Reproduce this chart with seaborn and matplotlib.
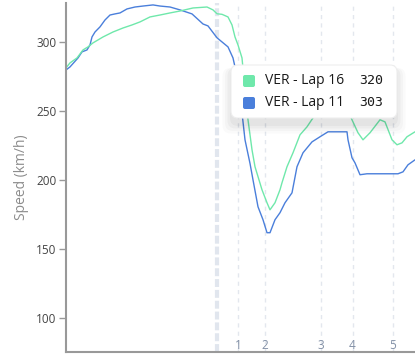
import numpy as np
import matplotlib
matplotlib.use("Agg")
import matplotlib.pyplot as plt
import seaborn as sns
import pandas as pd
from matplotlib.patches import FancyBboxPatch

# distance along the lap (m) and speed (km/h)
lap11_dist = [0, 40, 120, 160, 210, 240, 260, 290, 340, 390, 440, 490, 540, 610, 690,
              770, 870, 940, 1040, 1140, 1260, 1370, 1420, 1510, 1560, 1620, 1670, 1690,
              1720, 1760, 1790, 1840, 1870, 1920, 1970, 2010, 2040, 2090, 2140, 2190,
              2260, 2310, 2370, 2460, 2540, 2620, 2710, 2810, 2820, 2860, 2890, 2940,
              3010, 3210, 3320, 3370, 3420, 3490]
lap11_speed = [279.7, 281.9, 288.4, 292.8, 294.2, 297.8, 303.6, 307.2, 310.9, 315.9,
               319.5, 320.3, 321.0, 323.9, 325.3, 326.0, 326.8, 326.0, 325.3, 323.2,
               320.3, 313.0, 311.6, 303.0, 300.0, 296.4, 288.4, 281.9, 268.9, 248.6,
               229.1, 212.0, 200.1, 180.6, 171.2, 161.8, 161.8, 171.2, 176.3, 183.5,
               190.7, 209.6, 219.7, 227.6, 231.3, 234.9, 234.9, 234.9, 229.1, 216.1,
               212.4, 203.8, 204.5, 204.5, 204.5, 205.9, 211.0, 214.6]

lap16_dist = [0, 40, 110, 170, 220, 270, 370, 470, 570, 660, 740, 840, 940, 1040, 1140,
              1270, 1410, 1470, 1510, 1560, 1620, 1660, 1690, 1720, 1760, 1790, 1820,
              1860, 1890, 1960, 2010, 2040, 2090, 2140, 2160, 2210, 2270, 2340, 2410,
              2470, 2540, 2640, 2740, 2810, 2860, 2920, 2970, 3040, 3140, 3190, 3260,
              3310, 3360, 3410, 3490]
lap16_speed = [281.2, 284.8, 288.4, 294.2, 296.4, 299.3, 303.6, 307.2, 310.1, 312.3,
               314.5, 318.1, 319.5, 321.0, 322.4, 324.6, 325.3, 323.2, 320.4, 320.0,
               318.1, 312.3, 303.6, 297.8, 288.4, 265.3, 243.6, 221.9, 209.6, 192.9,
               183.5, 178.4, 183.5, 192.9, 198.0, 209.6, 219.7, 232.7, 238.5, 245.0,
               252.2, 258.0, 258.0, 252.2, 243.6, 234.2, 229.1, 234.2, 243.6, 242.1,
               229.1, 225.5, 226.9, 231.3, 234.9]

corners = ["1", "2", "3", "4", "5"]
corner_dist = [1720, 1990, 2550, 2865, 3270]
cursor_dist = 1510

series = ["VER - Lap 16", "VER - Lap 11"]
series_values = [320, 303]
colors = {"VER - Lap 16": "#6fe8ab", "VER - Lap 11": "#4a7fdb"}

df = pd.concat([
    pd.DataFrame({"dist": lap16_dist, "speed": lap16_speed, "lap": "VER - Lap 16"}),
    pd.DataFrame({"dist": lap11_dist, "speed": lap11_speed, "lap": "VER - Lap 11"}),
])

sns.set_theme(style="white")
plt.rcParams["font.family"] = ["Open Sans", "DejaVu Sans"]

W, H = 415, 361
YMIN, YMAX = 75.4, 328.2
fig = plt.figure(figsize=(W / 100, H / 100), dpi=100)
ax = fig.add_axes([66 / W, 1 - 352 / H, (W - 66) / W, (352 - 3) / H])

for d in corner_dist:
    ax.axvline(d, color="#e3e7ee", lw=1, ls=(0, (3, 3)), zorder=0)
ax.axvline(cursor_dist, color="#e1e6ee", lw=3, ls=(0, (1.9, 0.7)), zorder=0)

sns.lineplot(data=df, x="dist", y="speed", hue="lap", palette=colors,
             hue_order=series[::-1], lw=1.0, legend=False, ax=ax, zorder=2, sort=False)

ax.set_xlim(0, 3490)
ax.set_ylim(YMIN, YMAX)
ax.set_yticks([100, 150, 200, 250, 300])
ax.set_xticks([])
ax.set_xlabel("")
ax.set_ylabel("Speed (km/h)", color="#8c8c8c", fontsize=10, labelpad=5)
ax.tick_params(axis="y", length=5, width=1, color="#999999", labelcolor="#444444",
               labelsize=8.5, left=True, pad=2)
for s in ["top", "right"]:
    ax.spines[s].set_visible(False)
for s in ["left", "bottom"]:
    ax.spines[s].set_color("#999999")
    ax.spines[s].set_linewidth(1.5)

# corner numbers sit just above the bottom spine
for lbl, d in zip(corners, corner_dist):
    ax.text(d, YMIN + (352 - 345) / 1.382, lbl, ha="center", va="center",
            color="#8290a6", fontsize=8.5)

# tooltip overlay in pixel coordinates
ov = fig.add_axes([0, 0, 1, 1], zorder=5)
ov.set_xlim(0, W)
ov.set_ylim(H, 0)
ov.axis("off")
ov.patch.set_alpha(0)
for i, a in enumerate([0.03, 0.03, 0.025, 0.02]):
    g = 2 + i * 2.5
    ov.add_patch(FancyBboxPatch((231 - g + 1, 65 + 3), 166 + 2 * g - 2, 53 + g + 3,
                                boxstyle="round,pad=0,rounding_size=8",
                                fc="black", ec="none", alpha=a))
ov.add_patch(FancyBboxPatch((231, 65), 166, 53, boxstyle="round,pad=0,rounding_size=7",
                            fc="white", ec="#eeeeee", lw=0.8))
for i, (name, val) in enumerate(zip(series, series_values)):
    yc = 81 + i * 22
    ov.add_patch(FancyBboxPatch((243, yc - 6), 12, 12, boxstyle="round,pad=0,rounding_size=2",
                                fc=colors[name], ec="none"))
    ov.text(265, yc, name, ha="left", va="center", fontsize=10, color="#1a1a1a")
    ov.text(383, yc, str(val), ha="right", va="center", fontsize=9.5,
            family="DejaVu Sans Mono", color="#1a1a1a")

fig.savefig("out.png", dpi=100)
